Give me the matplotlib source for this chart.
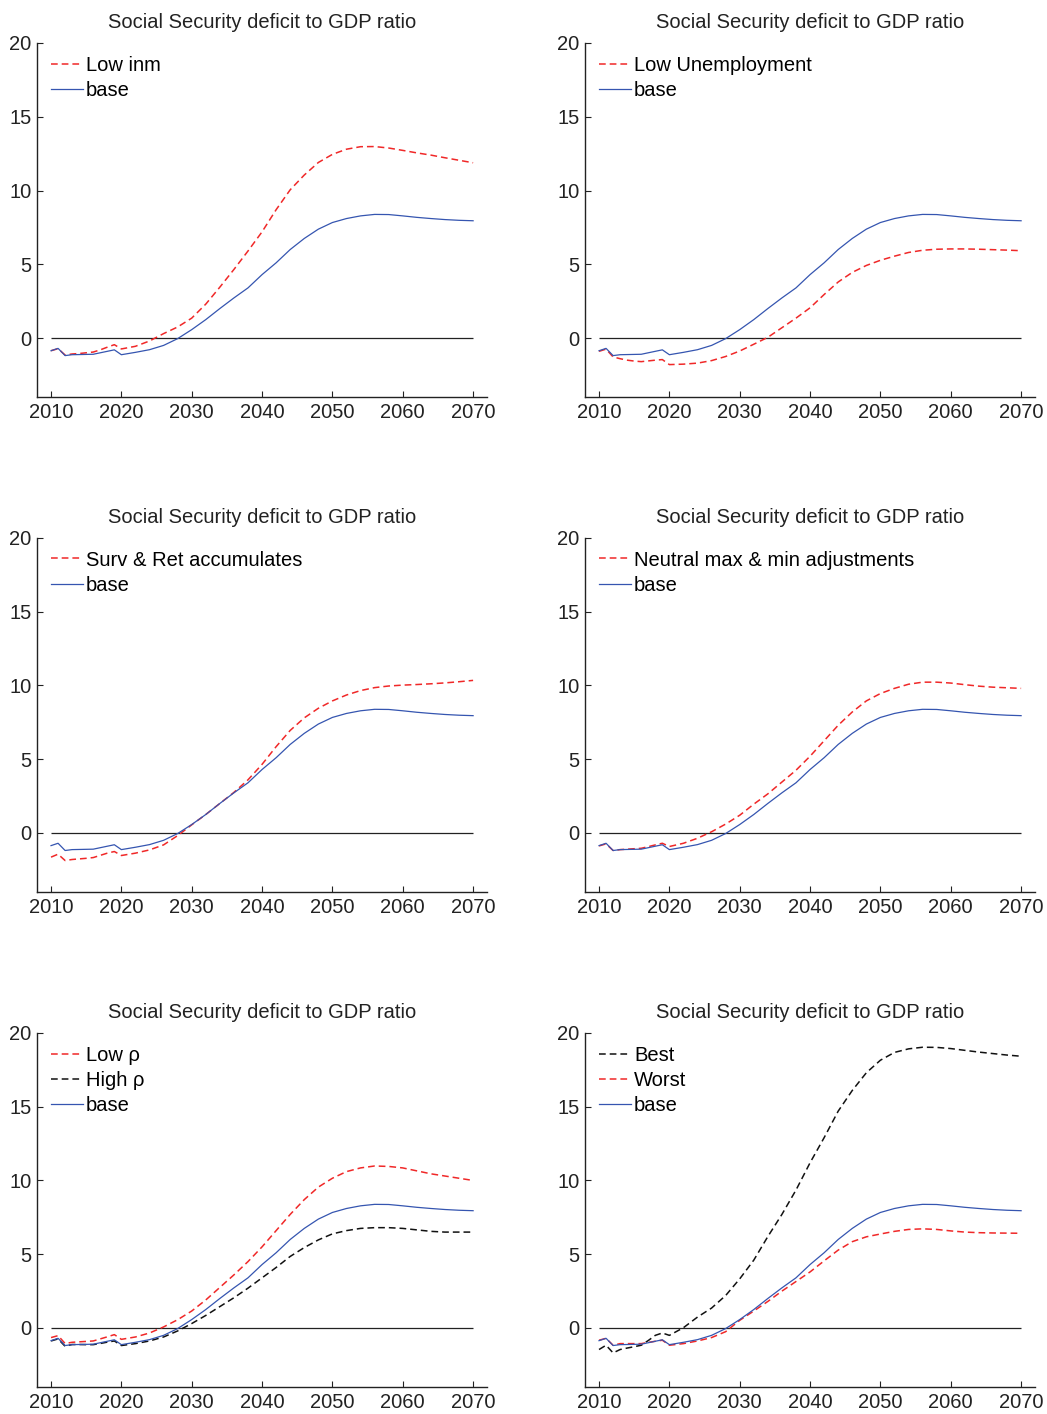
import numpy as np
import matplotlib
matplotlib.use('Agg')
from matplotlib import pyplot as plt

plt.rcParams['font.family'] = ['Liberation Sans', 'DejaVu Sans']

years = list(range(2010, 2021)) + list(range(2022, 2071, 2))

base = [-0.86, -0.70, -1.19, -1.13, -1.12, -1.11, -1.10, -1.00, -0.90, -0.80, -1.13,
        -0.97, -0.79, -0.50, -0.04, 0.57, 1.25, 2.00, 2.72, 3.40, 4.30, 5.10, 6.00, 6.75,
        7.38, 7.83, 8.10, 8.28, 8.38, 8.37, 8.28, 8.18, 8.10, 8.03, 7.98, 7.95]

low_inm = [-0.86, -0.72, -1.15, -1.08, -1.05, -1.00, -0.95, -0.80, -0.62, -0.45, -0.74,
           -0.56, -0.20, 0.30, 0.75, 1.35, 2.30, 3.45, 4.65, 5.90, 7.20, 8.70, 10.05, 11.05,
           11.90, 12.45, 12.80, 12.97, 12.98, 12.88, 12.72, 12.55, 12.40, 12.22, 12.05, 11.88]

low_unemp = [-0.90, -0.75, -1.28, -1.40, -1.50, -1.56, -1.60, -1.55, -1.50, -1.46, -1.80,
             -1.77, -1.70, -1.53, -1.25, -0.88, -0.42, 0.05, 0.70, 1.35, 2.05, 2.95, 3.80, 4.45,
             4.92, 5.27, 5.55, 5.80, 5.95, 6.02, 6.04, 6.04, 6.02, 5.99, 5.96, 5.92]

surv_ret = [-1.64, -1.44, -1.87, -1.80, -1.76, -1.72, -1.67, -1.52, -1.37, -1.26, -1.53,
            -1.37, -1.15, -0.81, -0.18, 0.55, 1.25, 2.00, 2.75, 3.60, 4.65, 5.85, 6.95, 7.80,
            8.45, 8.95, 9.35, 9.65, 9.85, 9.96, 10.02, 10.06, 10.11, 10.17, 10.25, 10.34]

neutral = [-0.88, -0.74, -1.19, -1.13, -1.10, -1.07, -1.04, -0.93, -0.81, -0.70, -0.92,
           -0.70, -0.36, 0.08, 0.60, 1.20, 1.95, 2.65, 3.45, 4.25, 5.20, 6.25, 7.30, 8.20,
           8.95, 9.45, 9.80, 10.08, 10.22, 10.22, 10.16, 10.05, 9.95, 9.88, 9.84, 9.80]

low_rho = [-0.65, -0.52, -1.05, -0.97, -0.94, -0.91, -0.88, -0.74, -0.60, -0.45, -0.77,
           -0.61, -0.34, 0.07, 0.56, 1.15, 1.90, 2.75, 3.60, 4.50, 5.50, 6.60, 7.70, 8.70,
           9.55, 10.15, 10.60, 10.85, 10.98, 10.95, 10.85, 10.65, 10.45, 10.30, 10.15, 10.00]

high_rho = [-0.88, -0.74, -1.24, -1.12, -1.12, -1.13, -1.13, -1.05, -0.96, -0.88, -1.19,
            -1.06, -0.88, -0.61, -0.20, 0.30, 0.85, 1.45, 2.05, 2.70, 3.40, 4.10, 4.85, 5.45,
            5.97, 6.38, 6.60, 6.75, 6.80, 6.80, 6.75, 6.65, 6.55, 6.50, 6.50, 6.50]

best = [-1.46, -1.17, -1.69, -1.46, -1.36, -1.27, -1.17, -0.85, -0.50, -0.34, -0.50,
        0.02, 0.74, 1.35, 2.20, 3.33, 4.60, 6.20, 7.70, 9.35, 11.20, 12.90, 14.70, 16.10,
        17.30, 18.15, 18.68, 18.92, 19.03, 19.02, 18.94, 18.82, 18.70, 18.60, 18.50, 18.42]

worst = [-0.83, -0.70, -1.17, -1.06, -1.06, -1.06, -1.06, -0.98, -0.90, -0.83, -1.17,
         -1.06, -0.88, -0.65, -0.25, 0.52, 1.15, 1.80, 2.50, 3.15, 3.80, 4.55, 5.28, 5.85,
         6.18, 6.37, 6.55, 6.68, 6.72, 6.68, 6.58, 6.50, 6.46, 6.44, 6.43, 6.42]

title = 'Social Security deficit to GDP ratio'
xticks = [2010, 2020, 2030, 2040, 2050, 2060, 2070]
yticks = [0, 5, 10, 15, 20]

RED = '#f02828'
BLACK = '#111111'
BLUE = '#3555b0'

# (series, label, colour) for each panel, base always last
panels = [
    [(low_inm, 'Low inm', RED)],
    [(low_unemp, 'Low Unemployment', RED)],
    [(surv_ret, 'Surv & Ret accumulates', RED)],
    [(neutral, 'Neutral max & min adjustments', RED)],
    [(low_rho, 'Low \u03c1', RED), (high_rho, 'High \u03c1', BLACK)],
    [(best, 'Best', BLACK), (worst, 'Worst', RED)],
]

fig = plt.figure(figsize=(10.47, 14.14), dpi=100)
lefts = [0.0353, 0.5587]
bottoms = [0.7192, 0.3692, 0.0191]
w, h = 0.430, 0.2504

for i, series in enumerate(panels):
    ax = fig.add_axes([lefts[i % 2], bottoms[i // 2], w, h])
    ax.hlines(0, years[0], years[-1], color='#222222', lw=0.9)
    for vals, lab, col in series:
        ax.plot(years, vals, color=col, lw=1.1, dashes=(4.4, 2.6), label=lab)
    ax.plot(years, base, color=BLUE, lw=0.9, label='base')

    ax.set_xlim(2008, 2072)
    ax.set_ylim(-4, 20)
    ax.set_xticks(xticks)
    ax.set_yticks(yticks)
    ax.spines['top'].set_visible(False)
    ax.spines['right'].set_visible(False)
    for s in ['left', 'bottom']:
        ax.spines[s].set_linewidth(1.0)
        ax.spines[s].set_color('#222222')
    ax.tick_params(direction='in', length=4, width=0.8, labelsize=14.5,
                   colors='#222222', pad=4)
    ax.set_title(title, fontsize=14.5, pad=11, color='#222222')
    ax.legend(loc='upper left', frameon=False, fontsize=14.5,
              handlelength=1.6, handletextpad=0.15, labelspacing=0.3,
              borderaxespad=0.0, bbox_to_anchor=(0.013, 0.987))

plt.savefig('out.png', dpi=100)
